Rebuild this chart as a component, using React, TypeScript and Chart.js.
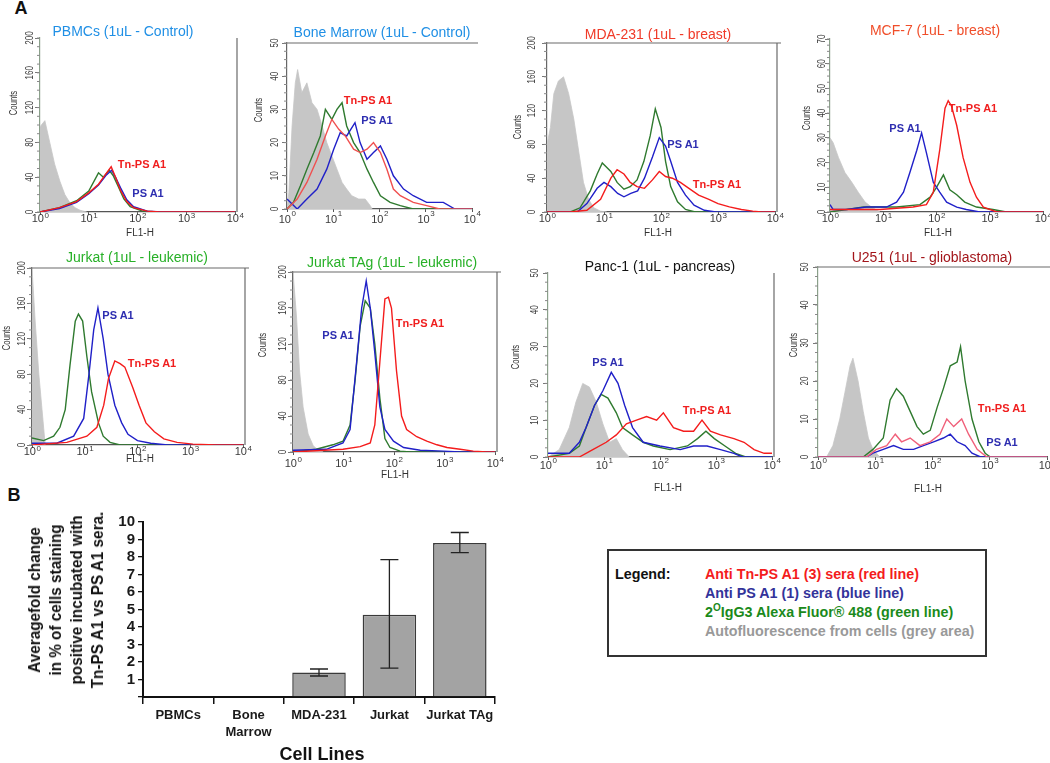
import React, { useEffect, useRef } from 'react';
import { Chart, registerables } from 'chart.js';

Chart.register(...registerables);

const FONT = '"Liberation Sans", Arial, Helvetica, sans-serif';
Chart.defaults.font.family = FONT;

// ---------- Histogram data: [log10(FL1-H), Counts] ----------
const pbmcGrey = [[0,98],[0.1,105],[0.2,80],[0.3,55],[0.41,35],[0.51,20],[0.62,10],[0.72,5],[0.82,2],[0.96,0]];
const pbmcGreen = [[0,0],[0.4,5],[0.75,13],[1.0,24],[1.2,45],[1.3,40],[1.42,48],[1.5,42],[1.6,30],[1.72,15],[1.85,6],[2.1,1],[2.45,0],[4,0]];
const pbmcBlue = [[0,0],[0.4,4],[0.75,11],[1.0,21],[1.2,31],[1.35,42],[1.47,48],[1.55,40],[1.65,28],[1.78,14],[1.92,6],[2.2,1],[2.5,0],[4,0]];
const pbmcRed = [[0,0],[0.4,5],[0.75,12],[1.0,22],[1.2,32],[1.33,42],[1.46,52],[1.55,40],[1.65,25],[1.78,12],[1.92,5],[2.2,1],[2.45,0],[4,0]];

const boneGrey = [[0,0],[0.04,5],[0.11,25],[0.18,38],[0.23,42],[0.32,35],[0.43,38],[0.54,32],[0.65,30],[0.76,25],[0.86,20],[0.97,16],[1.08,12],[1.19,8],[1.29,6],[1.4,4],[1.55,3],[1.69,3],[1.8,1],[1.84,0]];
const boneGreen = [[0,0],[0.14,2],[0.29,7],[0.43,12],[0.58,17],[0.72,22],[0.83,30],[0.97,27],[1.08,30],[1.19,32],[1.29,25],[1.44,20],[1.58,17],[1.73,12],[1.87,8],[2.02,4],[2.23,2],[2.45,1],[2.73,0],[4,0]];
const boneBlue = [[0,3],[0.22,0],[0.43,3],[0.65,6],[0.86,12],[1.01,18],[1.15,23],[1.29,22],[1.47,26],[1.58,20],[1.73,15],[1.87,17],[2.02,19],[2.16,15],[2.3,10],[2.52,6],[2.73,4],[3.02,2],[3.38,2],[3.63,0],[4,0]];
const boneRed = [[0,0],[0.22,3],[0.43,8],[0.65,15],[0.83,22],[0.97,27],[1.12,24],[1.26,22],[1.44,18],[1.58,17],[1.73,18],[1.87,20],[2.02,17],[2.16,12],[2.3,6],[2.45,4],[2.73,2],[3.02,1],[3.3,0],[4,0]];

const mdaGrey = [[0,80],[0.06,100],[0.12,140],[0.2,155],[0.29,160],[0.38,140],[0.47,110],[0.56,70],[0.64,35],[0.73,15],[0.82,5],[0.94,1],[1.05,0]];
const mdaGreen = [[0,0],[0.41,0],[0.58,5],[0.76,25],[0.88,45],[0.97,58],[1.12,48],[1.23,35],[1.35,27],[1.46,30],[1.58,38],[1.7,60],[1.81,90],[1.9,122],[2.0,100],[2.08,60],[2.17,30],[2.29,12],[2.43,3],[2.6,0],[4,0]];
const mdaBlue = [[0,0],[0.53,0],[0.7,10],[0.88,28],[1.0,35],[1.12,30],[1.24,22],[1.35,18],[1.47,22],[1.59,25],[1.71,40],[1.85,65],[1.97,88],[2.08,78],[2.17,60],[2.29,35],[2.43,20],[2.58,8],[2.76,2],[2.96,0],[4,0]];
const mdaRed = [[0,0],[0.41,0],[0.7,2],[0.94,15],[1.12,40],[1.23,50],[1.35,45],[1.46,35],[1.58,30],[1.71,28],[1.85,38],[1.97,48],[2.08,42],[2.2,40],[2.34,35],[2.49,28],[2.66,20],[2.84,15],[3.0,10],[3.2,6],[3.41,3],[3.61,1],[3.76,0],[4,0]];

const mcfGrey = [[0,30],[0.06,28],[0.16,22],[0.28,16],[0.41,12],[0.53,8],[0.66,4],[0.78,2],[0.94,0]];
const mcfGreen = [[0,0],[0.63,2],[1.25,2],[1.69,3],[1.88,6],[2.0,10],[2.13,15],[2.25,9],[2.38,7],[2.53,4],[2.75,2],[3.06,1],[3.31,0],[4,0]];
const mcfBlue = [[0,3],[0.06,1],[0.31,1],[0.69,2],[1.06,2],[1.25,4],[1.38,8],[1.5,16],[1.63,25],[1.72,32],[1.81,24],[1.94,12],[2.06,8],[2.19,4],[2.38,2],[2.56,1],[2.81,0],[4,0]];
const mcfRed = [[0,1],[0.94,1],[1.56,2],[1.81,3],[1.94,8],[2.06,25],[2.16,42],[2.22,45],[2.28,43],[2.38,35],[2.5,22],[2.63,12],[2.75,6],[2.88,2],[3.13,0],[4,0]];

const jurkatGrey = [[0,200],[0.06,140],[0.13,80],[0.19,40],[0.25,0]];
const jurkatGreen = [[0,8],[0.22,5],[0.41,10],[0.53,20],[0.63,40],[0.72,90],[0.82,140],[0.88,148],[0.96,140],[1.04,100],[1.13,60],[1.26,25],[1.35,10],[1.48,3],[1.67,0],[4,0]];
const jurkatBlue = [[0,2],[0.47,2],[0.79,10],[0.98,30],[1.08,80],[1.17,130],[1.25,155],[1.35,120],[1.44,80],[1.57,45],[1.7,25],[1.82,12],[2.0,5],[2.25,2],[2.57,0],[4,0]];
const jurkatRed = [[0,0],[0.66,3],[1.04,10],[1.23,20],[1.36,45],[1.45,75],[1.57,95],[1.67,92],[1.76,88],[1.91,65],[2.03,45],[2.16,25],[2.32,15],[2.5,7],[2.75,3],[3.05,1],[3.5,0],[4,0]];

const tagGrey = [[0,200],[0.07,150],[0.13,90],[0.2,50],[0.3,20],[0.4,7],[0.5,2],[0.6,0]];
const tagGreen = [[0,0],[0.46,3],[0.79,8],[0.99,12],[1.13,30],[1.23,80],[1.33,140],[1.43,168],[1.53,160],[1.62,120],[1.72,60],[1.82,15],[1.92,5],[2.12,1],[2.32,0],[4,0]];
const tagBlue = [[0,2],[0.66,3],[0.99,10],[1.13,25],[1.26,100],[1.36,160],[1.45,190],[1.53,160],[1.62,110],[1.72,50],[1.82,25],[1.99,12],[2.19,5],[2.52,2],[2.98,1],[3.31,0],[4,0]];
const tagRed = [[0,0],[0.99,3],[1.33,6],[1.53,10],[1.62,30],[1.72,100],[1.82,170],[1.89,172],[1.95,160],[2.05,90],[2.15,40],[2.25,25],[2.45,17],[2.65,12],[2.85,8],[3.05,5],[3.31,3],[3.57,1],[3.84,0],[4,0]];

const pancGrey = [[0,0],[0.2,2],[0.38,8],[0.5,15],[0.62,20],[0.74,19],[0.86,15],[0.98,9],[1.1,4],[1.22,5],[1.33,2],[1.45,0]];
const pancGreen = [[0,0],[0.38,1],[0.56,3],[0.68,8],[0.83,14],[0.95,17],[1.07,16],[1.22,12],[1.33,8],[1.51,6],[1.7,4],[1.88,3],[2.18,2],[2.49,3],[2.67,5],[2.82,7],[2.97,5],[3.16,3],[3.35,1],[3.53,0],[4,0]];
const pancBlue = [[0,1],[0.38,1],[0.56,4],[0.68,8],[0.83,14],[0.98,18],[1.13,23],[1.25,20],[1.37,14],[1.51,8],[1.7,4],[2.0,3],[2.36,2],[2.6,3],[2.84,3],[3.08,2],[3.32,1],[3.47,0],[4,0]];
const pancRed = [[0,0],[0.56,0],[0.8,2],[1.04,4],[1.22,6],[1.4,9],[1.58,10],[1.76,11],[1.94,10],[2.06,12],[2.24,8],[2.42,7],[2.6,7],[2.75,10],[2.9,7],[3.08,6],[3.32,5],[3.5,4],[3.68,2],[3.86,1],[4,1]];

const u251Grey = [[0.15,0],[0.26,3],[0.38,10],[0.47,17],[0.56,24],[0.61,26],[0.7,20],[0.79,12],[0.88,5],[0.96,2],[1.08,0]];
const u251Green = [[0,0],[0.79,0],[0.96,2],[1.14,5],[1.26,15],[1.37,18],[1.49,16],[1.61,12],[1.73,8],[1.84,6],[1.96,7],[2.08,13],[2.19,18],[2.31,24],[2.43,25],[2.49,29],[2.57,20],[2.69,10],[2.81,4],[2.92,1],[3.01,0],[4,0]];
const u251Blue = [[0,0],[0.85,0],[0.96,1],[1.14,2],[1.32,3],[1.49,2],[1.67,2],[1.84,3],[2.02,4],[2.19,5],[2.31,6],[2.43,4],[2.57,3],[2.69,1],[2.84,0],[4,0]];
const u251Red = [[0,0],[0.85,0],[1.02,2],[1.2,3],[1.35,6],[1.46,4],[1.61,5],[1.78,3],[1.96,4],[2.13,6],[2.25,10],[2.37,8],[2.51,10],[2.63,6],[2.78,2],[2.95,0],[4,0]];

// ---------- Bar chart data ----------
const cellLines = ['PBMCs', ['Bone', 'Marrow'], 'MDA-231', 'Jurkat', 'Jurkat TAg'];
const foldChange = [0, 0, 1.4, 4.7, 8.8];
const errLow = [null, null, 1.2, 1.65, 8.25];
const errHigh = [null, null, 1.6, 7.85, 9.4];
const barTicks = [1, 2, 3, 4, 5, 6, 7, 8, 9, 10];

const RED = '#f41c1c';
const BLUE = '#2020c8';
const GREEN = '#2f7a2f';
const GREY_FILL = '#c6c6c6';
const LBL_RED = '#f01e1e';
const LBL_BLUE = '#2e2eb0';

type Pts = number[][];
interface Panel {
  title: string; titleColor: string; titlePos: [number, number];
  area: [number, number, number, number];
  yMax: number; yStep: number;
  grey: Pts; green: Pts; blue: Pts; red: Pts; redColor?: string;
  frameTop: boolean; frameRight: boolean; dashedY: boolean;
  countsPos: [number, number]; xTitlePos?: [number, number];
  yLabOff: number; xLab: [number, number];
  labels: { text: string; color: string; pos: [number, number] }[];
}

const panels: Panel[] = [
  { title: 'PBMCs (1uL - Control)', titleColor: '#1f8fe5', titlePos: [123, 32], area: [40, 38, 235, 212], yMax: 200, yStep: 40,
    grey: pbmcGrey, green: pbmcGreen, blue: pbmcBlue, red: pbmcRed, frameTop: false, frameRight: true, dashedY: true,
    countsPos: [13, 103], xTitlePos: [140, 232], yLabOff: 10, xLab: [10, 4],
    labels: [{ text: 'Tn-PS A1', color: LBL_RED, pos: [142, 164] }, { text: 'PS A1', color: LBL_BLUE, pos: [148, 193] }] },
  { title: 'Bone Marrow (1uL - Control)', titleColor: '#1f8fe5', titlePos: [382, 33], area: [287, 43, 472, 209], yMax: 50, yStep: 10,
    grey: boneGrey, green: boneGreen, blue: boneBlue, red: boneRed, redColor: '#f05050', frameTop: true, frameRight: false, dashedY: false,
    countsPos: [258, 110], yLabOff: 12, xLab: [14, 7],
    labels: [{ text: 'Tn-PS A1', color: LBL_RED, pos: [368, 100] }, { text: 'PS A1', color: LBL_BLUE, pos: [377, 120] }] },
  { title: 'MDA-231 (1uL - breast)', titleColor: '#f03a28', titlePos: [658, 35], area: [547, 43, 775, 212], yMax: 200, yStep: 40,
    grey: mdaGrey, green: mdaGreen, blue: mdaBlue, red: mdaRed, frameTop: true, frameRight: true, dashedY: false,
    countsPos: [517, 127], xTitlePos: [658, 232], yLabOff: 15, xLab: [10, 4],
    labels: [{ text: 'PS A1', color: LBL_BLUE, pos: [683, 144] }, { text: 'Tn-PS A1', color: LBL_RED, pos: [717, 184] }] },
  { title: 'MCF-7 (1uL - breast)', titleColor: '#f04e2a', titlePos: [935, 31], area: [830, 39, 1043, 212], yMax: 70, yStep: 10,
    grey: mcfGrey, green: mcfGreen, blue: mcfBlue, red: mcfRed, frameTop: false, frameRight: false, dashedY: true,
    countsPos: [806, 118], xTitlePos: [938, 232], yLabOff: 8, xLab: [10, 4],
    labels: [{ text: 'Tn-PS A1', color: LBL_RED, pos: [973, 108] }, { text: 'PS A1', color: LBL_BLUE, pos: [905, 128] }] },
  { title: 'Jurkat (1uL - leukemic)', titleColor: '#27b027', titlePos: [137, 258], area: [32, 268, 243, 445], yMax: 200, yStep: 40,
    grey: jurkatGrey, green: jurkatGreen, blue: jurkatBlue, red: jurkatRed, frameTop: true, frameRight: true, dashedY: false,
    countsPos: [6, 338], xTitlePos: [140, 458], yLabOff: 10, xLab: [10, 4],
    labels: [{ text: 'PS A1', color: LBL_BLUE, pos: [118, 315] }, { text: 'Tn-PS A1', color: LBL_RED, pos: [152, 363] }] },
  { title: 'Jurkat TAg (1uL - leukemic)', titleColor: '#27b027', titlePos: [392, 263], area: [293, 272, 495, 452], yMax: 200, yStep: 40,
    grey: tagGrey, green: tagGreen, blue: tagBlue, red: tagRed, frameTop: true, frameRight: true, dashedY: false,
    countsPos: [262, 345], xTitlePos: [395, 474], yLabOff: 10, xLab: [15, 5],
    labels: [{ text: 'PS A1', color: LBL_BLUE, pos: [338, 335] }, { text: 'Tn-PS A1', color: LBL_RED, pos: [420, 323] }] },
  { title: 'Panc-1 (1uL - pancreas)', titleColor: '#111111', titlePos: [660, 267], area: [548, 273, 772, 457], yMax: 50, yStep: 10,
    grey: pancGrey, green: pancGreen, blue: pancBlue, red: pancRed, frameTop: false, frameRight: true, dashedY: true,
    countsPos: [515, 357], xTitlePos: [668, 487], yLabOff: 13, xLab: [12, 6],
    labels: [{ text: 'PS A1', color: LBL_BLUE, pos: [608, 362] }, { text: 'Tn-PS A1', color: LBL_RED, pos: [707, 410] }] },
  { title: 'U251 (1uL - glioblastoma)', titleColor: '#a3151a', titlePos: [932, 258], area: [818, 267, 1047, 457], yMax: 50, yStep: 10,
    grey: u251Grey, green: u251Green, blue: u251Blue, red: u251Red, redColor: '#f0607a', frameTop: true, frameRight: false, dashedY: true,
    countsPos: [793, 345], xTitlePos: [928, 488], yLabOff: 13, xLab: [12, 6],
    labels: [{ text: 'Tn-PS A1', color: LBL_RED, pos: [1002, 408] }, { text: 'PS A1', color: LBL_BLUE, pos: [1002, 442] }] },
];

const panelDeco = {
  id: 'panelDeco',
  afterDraw(chart: any, _args: any, opts: any) {
    const { ctx, chartArea: a, scales } = chart;
    const xs = scales.x, ys = scales.y;
    ctx.save();
    ctx.strokeStyle = '#6a6a6a';
    ctx.lineWidth = 1.2;
    if (opts.frameTop) { ctx.beginPath(); ctx.moveTo(a.left, a.top); ctx.lineTo(a.right + 6, a.top); ctx.stroke(); }
    if (opts.frameRight) { ctx.beginPath(); ctx.moveTo(a.right + 2, a.top); ctx.lineTo(a.right + 2, a.bottom); ctx.stroke(); }
    // minor ticks on y axis
    ctx.strokeStyle = '#8a8a8a';
    ctx.lineWidth = 1;
    const minor = opts.yStep / 4;
    for (let v = 0; v <= opts.yMax + 1e-9; v += minor) {
      const py = ys.getPixelForValue(v);
      ctx.beginPath(); ctx.moveTo(a.left - 3, py); ctx.lineTo(a.left, py); ctx.stroke();
    }
    // y tick labels (rotated)
    ctx.fillStyle = '#3a3a3a';
    ctx.font = `10px ${FONT}`;
    ctx.textAlign = 'center';
    ctx.textBaseline = 'middle';
    ys.ticks.forEach((t: any) => {
      const py = ys.getPixelForValue(t.value);
      ctx.save();
      ctx.translate(a.left - opts.yLabOff, py);
      ctx.rotate(-Math.PI / 2);
      ctx.scale(0.8, 1);
      ctx.fillText(String(t.value), 0, 0);
      ctx.restore();
    });
    // x tick labels 10^n
    ctx.textAlign = 'left';
    ctx.textBaseline = 'alphabetic';
    xs.ticks.forEach((t: any) => {
      const px = xs.getPixelForValue(t.value);
      ctx.font = `11px ${FONT}`;
      const w1 = ctx.measureText('10').width;
      ctx.font = `8px ${FONT}`;
      const w2 = ctx.measureText(String(t.value)).width;
      const sx = px - (w1 + w2) / 2;
      ctx.font = `11px ${FONT}`;
      ctx.fillText('10', sx, a.bottom + opts.xLab[0]);
      ctx.font = `8px ${FONT}`;
      ctx.fillText(String(t.value), sx + w1 + 0.5, a.bottom + opts.xLab[0] - opts.xLab[1]);
    });
    ctx.restore();
  },
};

const toXY = (p: Pts) => p.map(([x, y]) => ({ x, y }));

function Histogram({ cfg }: { cfg: Panel }) {
  const ref = useRef<HTMLCanvasElement>(null);
  const [L, T, R, B] = cfg.area;
  const padL = 45, padT = 10, padR = 16, padB = 30;
  const w = R - L + padL + padR;
  const h = B - T + padT + padB;
  useEffect(() => {
    const line = (data: Pts, color: string, order: number) => ({
      data: toXY(data), borderColor: color, borderWidth: 1.4, pointRadius: 0, fill: false, order, tension: 0,
    });
    const chart = new Chart(ref.current as HTMLCanvasElement, {
      type: 'line',
      data: {
        datasets: [
          { label: 'Anti Tn-PS A1', ...line(cfg.red, cfg.redColor || RED, 1) },
          { label: 'Anti PS A1', ...line(cfg.blue, BLUE, 2) },
          { label: 'IgG3 Alexa Fluor 488', ...line(cfg.green, GREEN, 3) },
          { label: 'Autofluorescence', data: toXY(cfg.grey), borderColor: GREY_FILL, backgroundColor: GREY_FILL,
            borderWidth: 0.8, pointRadius: 0, fill: 'origin', order: 4, tension: 0 },
        ] as any,
      },
      options: {
        responsive: false,
        animation: false,
        devicePixelRatio: 1,
        layout: { padding: { left: 0, top: padT, right: padR, bottom: 0 } },
        plugins: {
          legend: { display: false },
          tooltip: { enabled: false },
          panelDeco: { frameTop: cfg.frameTop, frameRight: cfg.frameRight, yStep: cfg.yStep, yMax: cfg.yMax, yLabOff: cfg.yLabOff, xLab: cfg.xLab },
        } as any,
        scales: {
          x: {
            type: 'linear', min: 0, max: 4,
            ticks: { display: false, stepSize: 1 },
            grid: { drawOnChartArea: false, drawTicks: true, tickLength: 3, color: '#555' },
            border: { color: '#555', width: 1.2 },
            afterFit: (s: any) => { s.height = padB; s.paddingLeft = 0; s.paddingRight = 0; },
          },
          y: {
            type: 'linear', min: 0, max: cfg.yMax,
            ticks: { display: false, stepSize: cfg.yStep },
            grid: { drawOnChartArea: false, drawTicks: true, tickLength: 5, color: '#777' },
            border: { color: cfg.dashedY ? '#8aa08a' : '#666', width: 1.2, dash: cfg.dashedY ? [1, 2] : [] },
            afterFit: (s: any) => { s.width = padL; s.paddingTop = 0; s.paddingBottom = 0; },
          },
        } as any,
      },
      plugins: [panelDeco],
    });
    return () => chart.destroy();
  }, []);
  return (
    <canvas ref={ref} width={w} height={h}
      style={{ position: 'absolute', left: L - padL, top: T - padT, width: w, height: h }} />
  );
}

const errorBars = {
  id: 'errorBars',
  afterDatasetsDraw(chart: any) {
    const { ctx, scales } = chart;
    const ys = scales.y;
    const meta = chart.getDatasetMeta(0);
    ctx.save();
    ctx.strokeStyle = '#222';
    ctx.lineWidth = 1.3;
    meta.data.forEach((bar: any, i: number) => {
      const lo = errLow[i], hi = errHigh[i];
      if (lo == null || hi == null) return;
      const yl = ys.getPixelForValue(lo);
      const yh = ys.getPixelForValue(hi);
      ctx.beginPath();
      ctx.moveTo(bar.x, yl); ctx.lineTo(bar.x, yh);
      ctx.moveTo(bar.x - 9, yl); ctx.lineTo(bar.x + 9, yl);
      ctx.moveTo(bar.x - 9, yh); ctx.lineTo(bar.x + 9, yh);
      ctx.stroke();
    });
    ctx.restore();
  },
};

function BarPanel() {
  const ref = useRef<HTMLCanvasElement>(null);
  const L = 143, T = 522, R = 495, B = 697;
  const padL = 60, padT = 20, padR = 15, padB = 55;
  const w = R - L + padL + padR;
  const h = B - T + padT + padB;
  useEffect(() => {
    const chart = new Chart(ref.current as HTMLCanvasElement, {
      type: 'bar',
      data: {
        labels: cellLines as any,
        datasets: [{
          label: 'Average fold change', data: foldChange, backgroundColor: '#a3a3a3', borderColor: '#3a3a3a',
          borderWidth: 1.5, barPercentage: 0.76, categoryPercentage: 1,
        }],
      },
      options: {
        responsive: false,
        animation: false,
        devicePixelRatio: 1,
        layout: { padding: { left: 0, top: padT, right: padR, bottom: 0 } },
        plugins: { legend: { display: false }, tooltip: { enabled: false } },
        scales: {
          x: {
            grid: { offset: true, drawOnChartArea: false, drawTicks: true, tickLength: 7, color: '#111', lineWidth: 1.5 },
            border: { color: '#111', width: 2 },
            ticks: { font: { family: FONT, size: 13, weight: 'bold', lineHeight: 1.3 }, color: '#1a1a1a', padding: 3,
              maxRotation: 0, minRotation: 0, autoSkip: false },
            afterFit: (s: any) => { s.height = padB; s.paddingLeft = 0; s.paddingRight = 0; },
          },
          y: {
            min: 0, max: 10,
            afterBuildTicks: (s: any) => { s.ticks = [0, ...barTicks].map((v) => ({ value: v })); },
            ticks: { stepSize: 1, autoSkip: false, font: { family: FONT, size: 15, weight: 'bold' }, color: '#1a1a1a', padding: 3,
              callback: (v: any) => (v === 0 ? '' : String(v)) },
            grid: { drawOnChartArea: false, drawTicks: true, tickLength: 5, color: '#111', lineWidth: 1.3 },
            border: { color: '#111', width: 2 },
            afterFit: (s: any) => { s.width = padL; s.paddingTop = 0; s.paddingBottom = 0; },
          },
        } as any,
      },
      plugins: [errorBars],
    });
    return () => chart.destroy();
  }, []);
  return (
    <canvas ref={ref} width={w} height={h}
      style={{ position: 'absolute', left: L - padL, top: T - padT, width: w, height: h }} />
  );
}

function Txt({ x, y, children, style, rotate }: { x: number; y: number; children: any; style?: any; rotate?: string }) {
  return (
    <div style={{
      position: 'absolute', left: x, top: y, whiteSpace: 'nowrap', fontFamily: FONT, lineHeight: 1.1,
      transform: `translate(-50%, -50%)${rotate ? ' ' + rotate : ''}`, ...style,
    }}>{children}</div>
  );
}

export default function App() {
  return (
    <div style={{ position: 'absolute', left: 0, top: 0, width: 1050, height: 763, overflow: 'hidden', background: '#fff', fontFamily: FONT }}>
      {panels.map((p, i) => <Histogram key={i} cfg={p} />)}
      <BarPanel />

      {panels.map((p, i) => (
        <React.Fragment key={'t' + i}>
          <Txt x={p.titlePos[0]} y={p.titlePos[1]} style={{ fontSize: 14, color: p.titleColor }}>{p.title}</Txt>
          <Txt x={p.countsPos[0]} y={p.countsPos[1]} rotate="rotate(-90deg) scale(0.7, 1)" style={{ fontSize: 11, color: '#333' }}>Counts</Txt>
          {p.xTitlePos && <Txt x={p.xTitlePos[0]} y={p.xTitlePos[1]} style={{ fontSize: 10, color: '#333' }}>FL1-H</Txt>}
          {p.labels.map((l, j) => (
            <Txt key={j} x={l.pos[0]} y={l.pos[1]} style={{ fontSize: 11, fontWeight: 'bold', color: l.color }}>{l.text}</Txt>
          ))}
        </React.Fragment>
      ))}

      <Txt x={21} y={9} style={{ fontSize: 18, fontWeight: 'bold', color: '#111' }}>A</Txt>
      <Txt x={14} y={496} style={{ fontSize: 18, fontWeight: 'bold', color: '#111' }}>B</Txt>

      <Txt x={66} y={600} rotate="rotate(-90deg) scale(0.9, 1)"
        style={{ fontSize: 17, fontWeight: 'bold', color: '#111', lineHeight: '21px', textAlign: 'center' }}>
        Averagefold change<br />in % of cells staining<br />positive incubated with<br />Tn-PS A1 vs PS A1 sera.
      </Txt>
      <Txt x={322} y={755} style={{ fontSize: 18, fontWeight: 'bold', color: '#111' }}>Cell Lines</Txt>

      <div style={{ position: 'absolute', left: 607, top: 549, width: 376, height: 104, border: '2px solid #333', fontFamily: FONT }} />
      <div style={{ position: 'absolute', left: 615, top: 565, fontFamily: FONT, fontSize: 14.3, fontWeight: 'bold', color: '#111', lineHeight: '19px' }}>Legend:</div>
      <div style={{ position: 'absolute', left: 705, top: 565, fontFamily: FONT, fontSize: 14.3, fontWeight: 'bold', lineHeight: '19px', whiteSpace: 'nowrap' }}>
        <div style={{ color: '#f41c1c' }}>Anti Tn-PS A1 (3) sera (red line)</div>
        <div style={{ color: '#33339a' }}>Anti PS A1 (1) sera (blue line)</div>
        <div style={{ color: '#1b8a1b' }}>2<sup style={{ fontSize: 10, lineHeight: 0, verticalAlign: '6px' }}>O</sup>IgG3 Alexa Fluor® 488 (green line)</div>
        <div style={{ color: '#999999' }}>Autofluorescence from cells (grey area)</div>
      </div>
    </div>
  );
}
